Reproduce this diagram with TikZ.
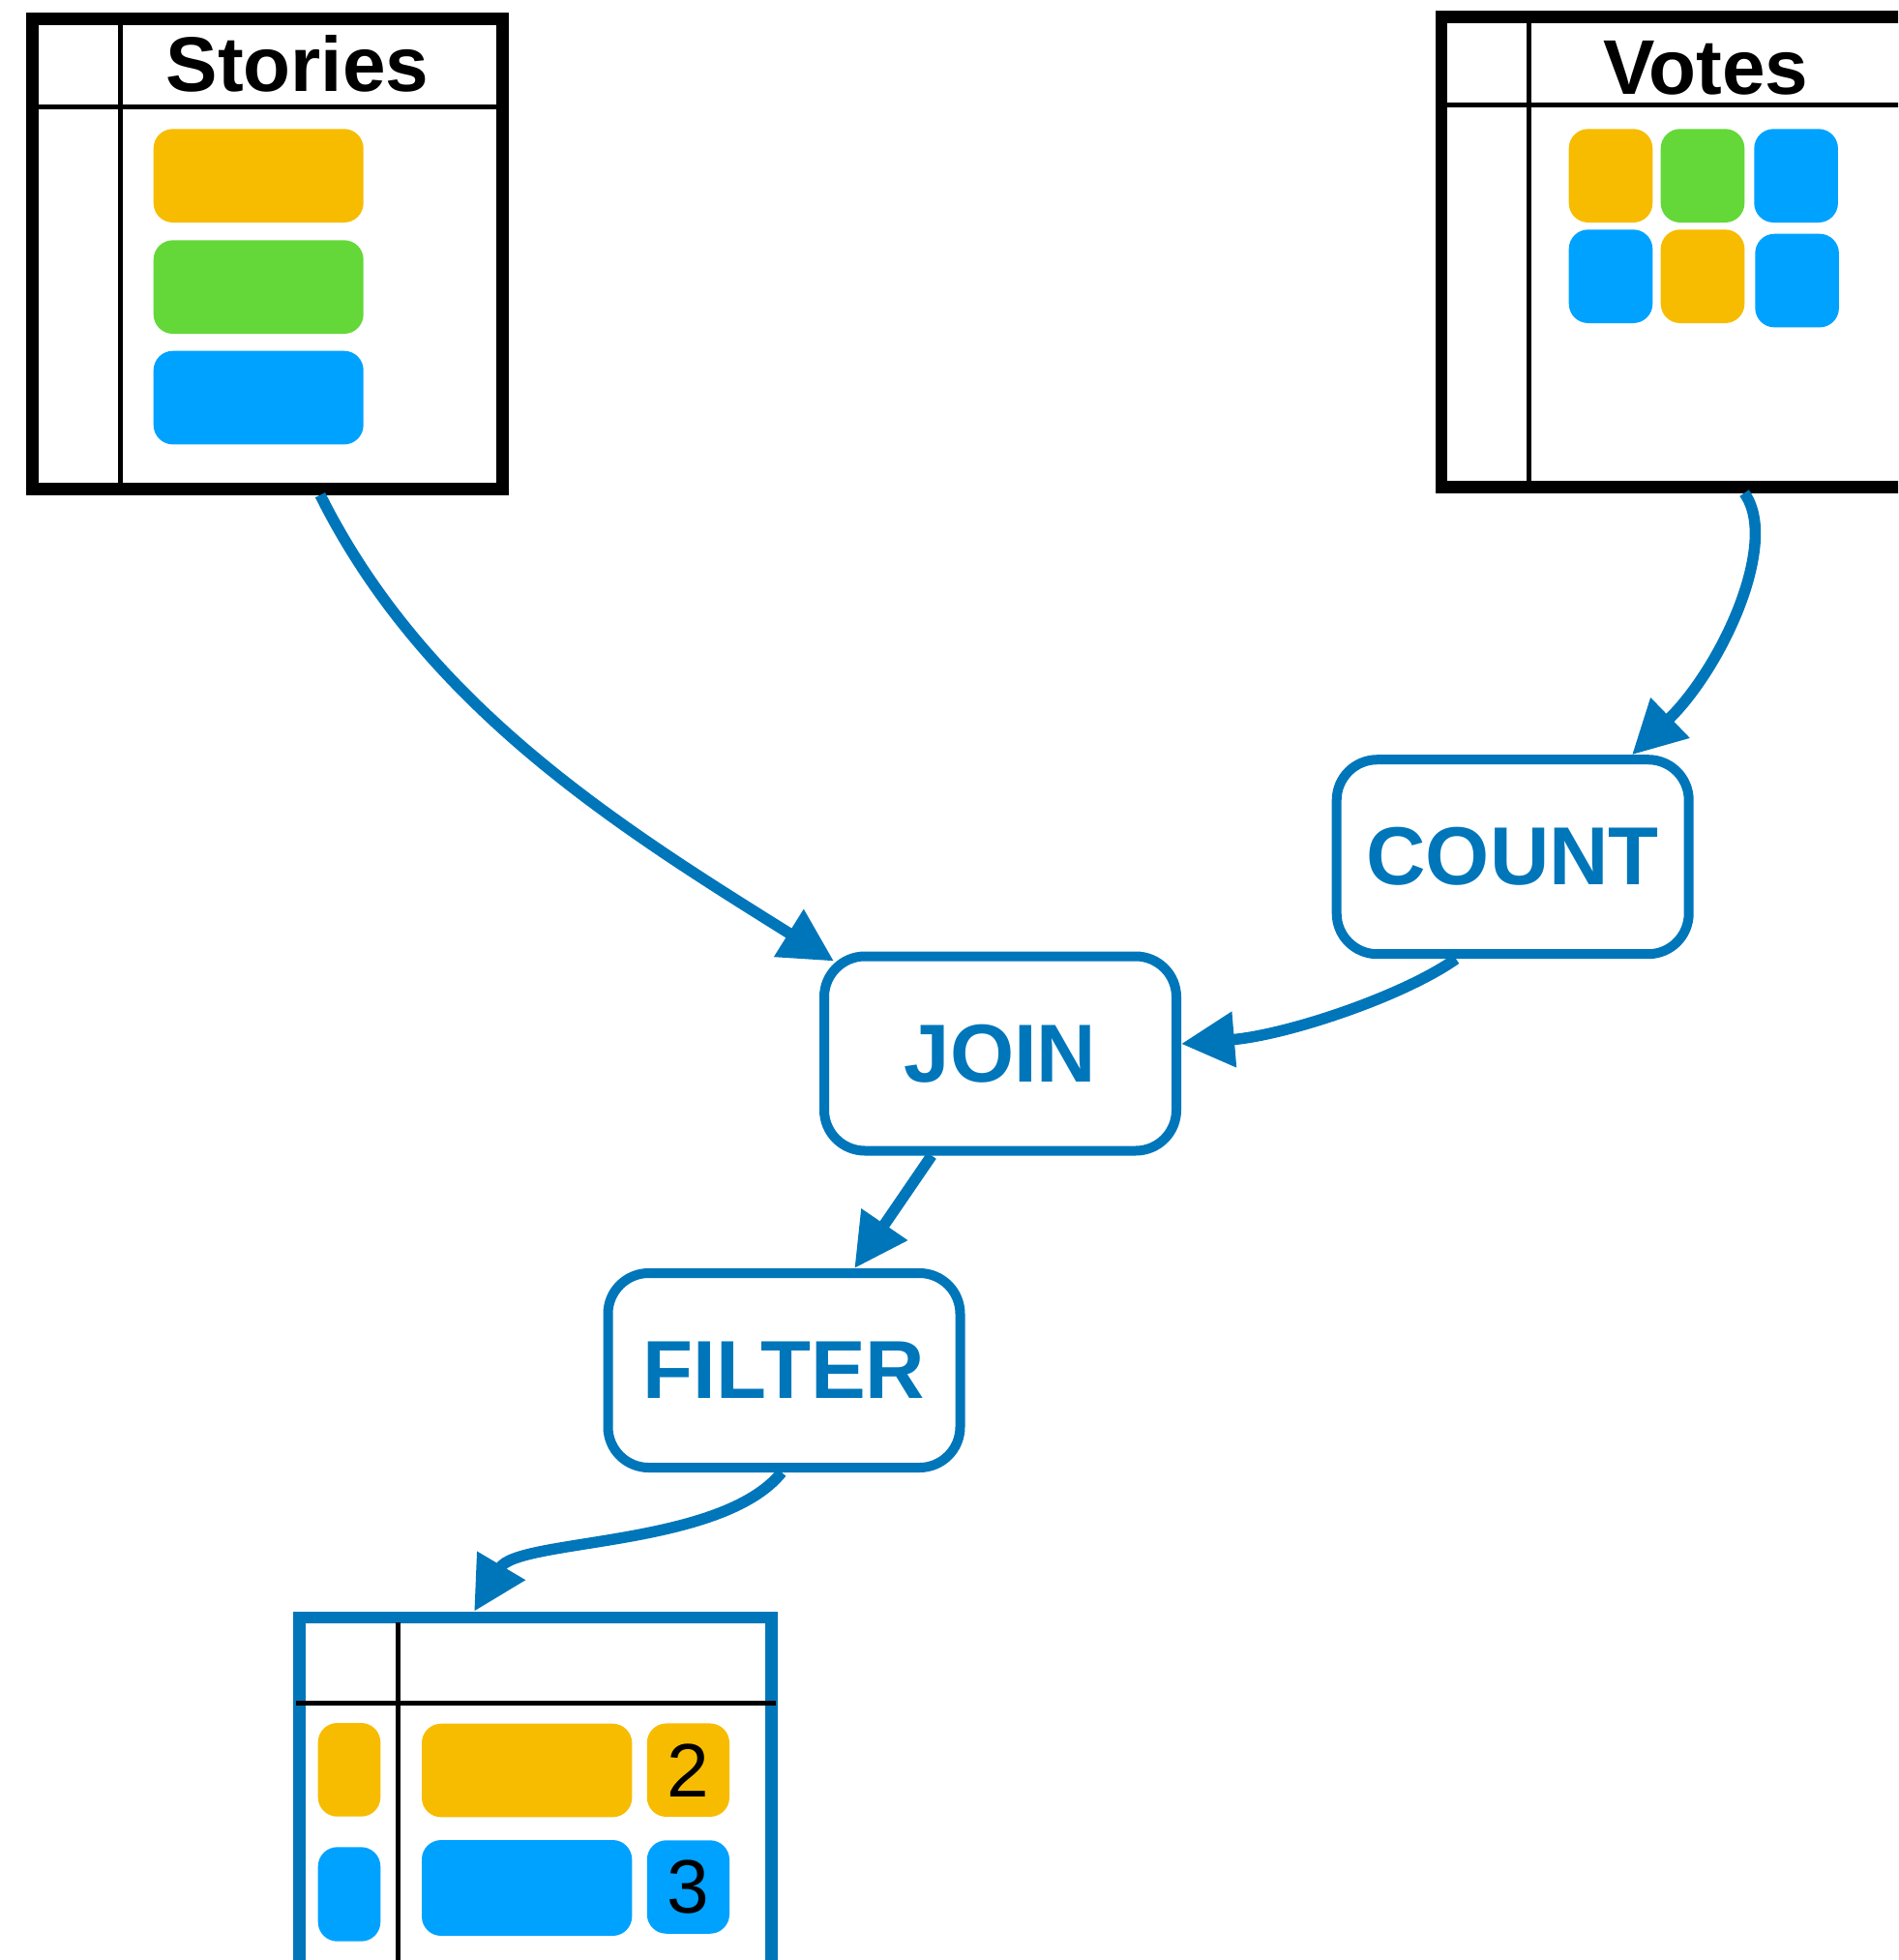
\documentclass[tikz,border=0pt]{standalone}
\usepackage{fontspec}
\setmainfont{Liberation Sans}
\usetikzlibrary{calc,arrows.meta}

\definecolor{keyblue}{HTML}{0076BA}
\definecolor{keyyellow}{HTML}{F7BC00}
\definecolor{keygreen}{HTML}{63D838}
\definecolor{keycyan}{HTML}{00A2FF}

\begin{document}
\begin{tikzpicture}
% Page
\path[use as bounding box, fill=white] (0,0) rectangle (19.62,-20.26);
\clip (0,0) rectangle (19.62,-20.26);

   \tikzstyle{tbl} = [draw, shape=rectangle, line width=0.127cm, inner sep=0pt]
   \tikzstyle{opbox} = [draw=keyblue, shape=rectangle, rounded corners=0.42cm, line width=0.1cm, minimum width=3.64cm, minimum height=2.01cm, text=keyblue, font=\fontsize{24.2}{29}\selectfont\bfseries]
   \tikzstyle{chip} = [rounded corners=0.2cm]
   \tikzstyle{numcell} = [shape=rectangle, rounded corners=0.2cm, minimum width=0.852cm, minimum height=0.965cm, inner sep=0pt, font=\fontsize{22.3}{26}\selectfont]
   \tikzstyle{tabtitle} = [anchor=base, inner sep=0pt, font=\fontsize{22.8}{27}\selectfont\bfseries]
   \tikzstyle{divider} = [line width=0.05cm]
   \tikzstyle{flowarrow} = [keyblue, line width=0.115cm, -{Triangle[length=0.55cm,width=0.55cm]}]

% Tables
\node[tbl, minimum width=4.86cm, minimum height=4.86cm] (stories) at (2.767,-2.623) {};
\node[tbl, minimum width=6.1cm, minimum height=4.856cm] (votes) at (17.95,-2.605) {};
\node[tbl, draw=keyblue, minimum width=4.881cm, minimum height=4.68cm] (result) at (5.5375,-19.06) {};

\node[tabtitle] (storiestitle) at (3.075,-0.945) {Stories};
\node[tabtitle] (votestitle) at (17.633,-0.973) {Votes};

\draw[divider] (1.248,-0.193) -- (1.248,-5.053);
\draw[divider] (0.337,-1.105) -- (5.197,-1.105);
\draw[divider] (15.808,-0.177) -- (15.808,-5.033);
\draw[divider] (14.9,-1.088) -- (21,-1.088);
\draw[divider] (4.115,-16.767) -- (4.115,-21);
\draw[divider] (3.06,-17.605) -- (8.02,-17.605);

% Rows
\foreach \col/\top in {keyyellow/1.333, keygreen/2.483, keycyan/3.627}
    \fill[\col, chip] (1.587,-\top) rectangle ++(2.17,-0.967);

\foreach \col/\x/\top in {keyyellow/16.217/1.333, keygreen/17.167/1.333, keycyan/18.133/1.333, keycyan/16.217/2.373, keyyellow/17.167/2.373, keycyan/18.143/2.417}
    \fill[\col, chip] (\x,-\top) rectangle ++(0.866,-0.967);

\fill[keyyellow, chip] (3.287,-17.81) rectangle (3.933,-18.777);
\fill[keyyellow, chip] (4.36,-17.817) rectangle (6.533,-18.783);
\fill[keycyan, chip] (3.287,-19.093) rectangle (3.933,-20.067);
\fill[keycyan, chip] (4.36,-19.02) rectangle (6.533,-20.01);

\node[numcell, fill=keyyellow] (count2) at (7.114,-18.297) {2};
\node[numcell, fill=keycyan] (count3) at (7.114,-19.505) {3};

% Operators
\node[opbox] (count) at (15.637,-8.857) {COUNT};
\node[opbox] (join) at (10.34,-10.89) {JOIN};
\node[opbox] (filter) at (8.105,-14.165) {FILTER};

\draw[flowarrow] ($(stories.south)+(0.543,0)$) .. controls (4.4,-7.3) and (6.4,-8.55) .. ($(join.north west)+(0.15,-0.1)$);
\draw[flowarrow] ($(votes.south)+(0.08,0)$) .. controls (18.4,-5.6) and (17.8,-6.9) .. ($(count.north)+(1.233,0)$);
\draw[flowarrow] ($(count.south)+(-0.587,0)$) .. controls (14.5,-10.3) and (13.3,-10.7) .. ($(join.east)+(0,0.1)$);
\draw[flowarrow] ($(join.south)+(-0.71,0)$) -- ($(filter.north)+(0.728,0)$);
\draw[flowarrow] ($(filter.south)+(-0.025,0)$) .. controls (7.45,-16.0) and (5.35,-15.9) .. ($(result.north)+(-0.636,0)$);
\end{tikzpicture}
\end{document}
